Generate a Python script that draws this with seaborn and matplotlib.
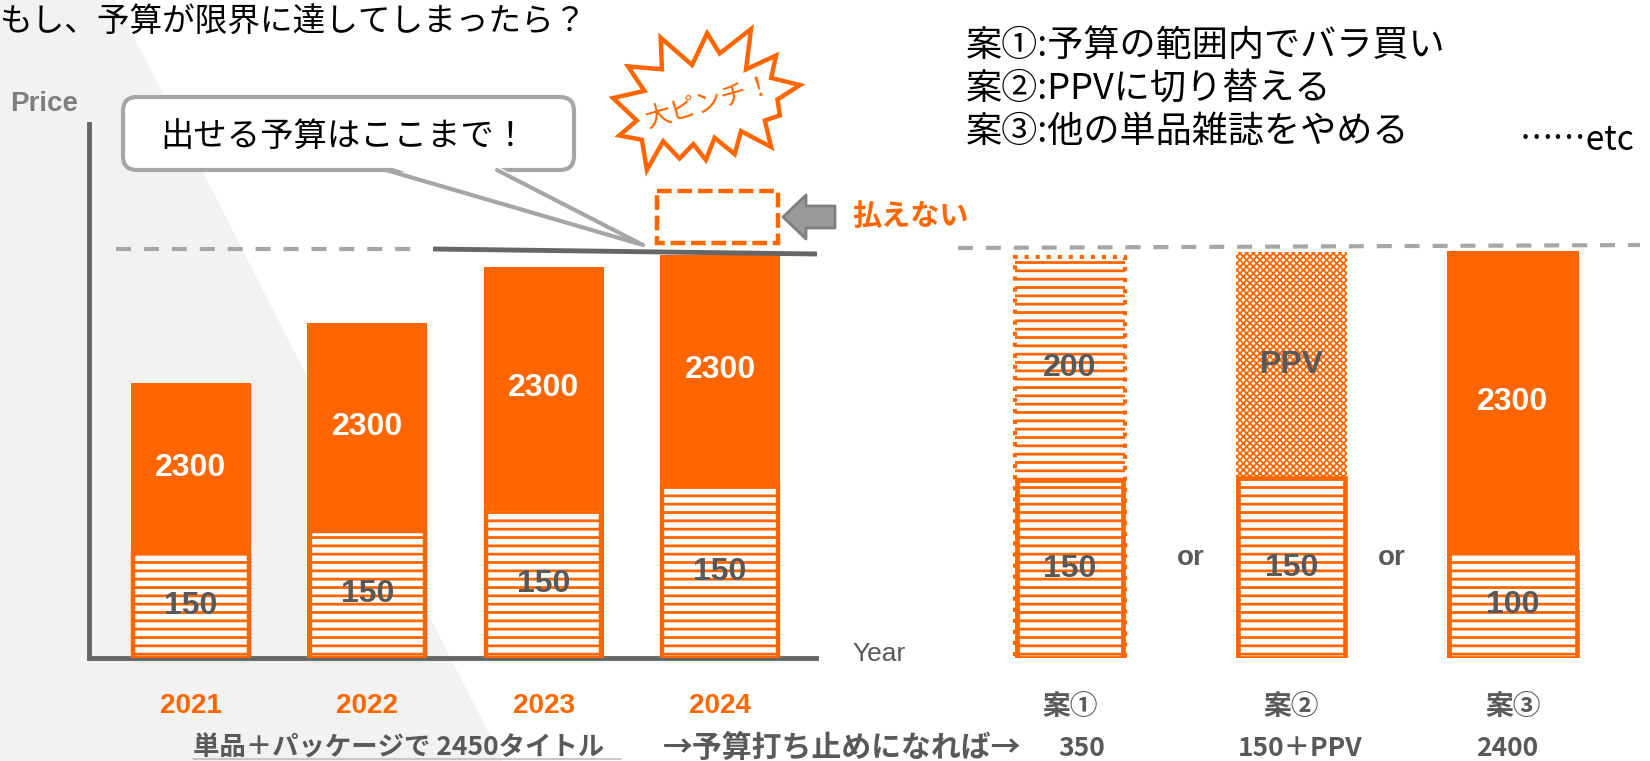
import matplotlib
matplotlib.use("Agg")
import matplotlib.pyplot as plt
import seaborn as sns
import pandas as pd
from matplotlib.patches import Polygon, FancyBboxPatch, Rectangle

# ---------------- data ----------------
years = ["2021", "2022", "2023", "2024"]
left_base_h = [105, 127, 149, 173]      # visual height of the 150 segment
left_total_h = [275, 335, 391, 403]     # visual height of the whole stack
left_base_label = ["150", "150", "150", "150"]
left_top_label = ["2300", "2300", "2300", "2300"]

plans = ["案①", "案②", "案③"]
right_base_h = [178, 180, 106]
right_total_h = [401, 406, 407]
right_base_label = ["150", "150", "100"]
right_top_label = ["200", "PPV", "2300"]
outcomes = ["350", "150＋PPV", "2400"]

options = ["案①:予算の範囲内でバラ買い", "案②:PPVに切り替える", "案③:他の単品雑誌をやめる"]
title = "もし、予算が限界に達してしまったら？"

# ---------------- style ----------------
ORANGE = "#FF6600"
DGRAY = "#595959"
CJK = ["Noto Sans CJK JP", "DejaVu Sans"]
LAT = ["Liberation Sans", "DejaVu Sans"]

sns.set_theme(style="white")
plt.rcParams["font.family"] = CJK
plt.rcParams["hatch.linewidth"] = 2.0

W, H = 1650, 761
fig = plt.figure(figsize=(16.5, 7.61), dpi=100)


def frac(x0, y0, x1, y1):
    return [x0 / W, (H - y1) / H, (x1 - x0) / W, (y1 - y0) / H]


# background
bg = fig.add_axes([0, 0, 1, 1], zorder=0)
bg.set_xlim(0, W)
bg.set_ylim(H, 0)
bg.axis("off")
bg.add_patch(Polygon([(0, 0), (115, 0), (503, 761), (0, 761)], closed=True,
                     fc="#f2f2f2", ec="none"))

# ---------------- left chart ----------------
dfL = pd.DataFrame({"year": years, "base": left_base_h, "total": left_total_h})
axL = fig.add_axes(frac(89, 124, 816, 658), zorder=1)
axL.patch.set_alpha(0)
sns.barplot(data=dfL, x="year", y="total", order=years, color=ORANGE, saturation=1,
            width=0.68, linewidth=0, errorbar=None, ax=axL, zorder=3)
sns.barplot(data=dfL, x="year", y="base", order=years, color="white", saturation=1,
            edgecolor=ORANGE, linewidth=3.2, hatch="--", width=0.655, errorbar=None,
            ax=axL, zorder=3)
ppu = (720 - 191) / 3
axL.set_xlim((89 - 191) / ppu, (816 - 191) / ppu)
axL.set_ylim(0, 534)
axL.set(xlabel="", ylabel="")
axL.set_yticks([])
sns.despine(ax=axL)
for s in ("left", "bottom"):
    axL.spines[s].set_color("#666666")
    axL.spines[s].set_linewidth(3.5)
axL.tick_params(axis="x", length=0, pad=25, labelsize=20, labelcolor=ORANGE)
for lab in axL.get_xticklabels():
    lab.set_fontfamily(LAT)
    lab.set_fontweight("bold")
for i in range(len(years)):
    axL.text(i, (left_base_h[i] + left_total_h[i]) / 2, left_top_label[i], ha="center",
             va="center", color="white", fontsize=23, fontweight="bold", family=LAT, zorder=5)
    axL.text(i, left_base_h[i] / 2, left_base_label[i], ha="center", va="center",
             color=DGRAY, fontsize=23, fontweight="bold", family=LAT, zorder=5)

# ---------------- right chart ----------------
dfR = pd.DataFrame({"plan": plans, "base": right_base_h, "total": right_total_h})
axR = fig.add_axes(frac(900, 124, 1650, 658), zorder=1)
axR.patch.set_alpha(0)
widths = {"案①": 0.5, "案②": 0.5, "案③": 0.6}
top_style = {
    "案①": dict(color="white", edgecolor=ORANGE, linewidth=3, linestyle=":", hatch="--"),
    "案②": dict(color="white", edgecolor=ORANGE, linewidth=0, hatch="xxxxx"),
    "案③": dict(color=ORANGE, linewidth=0),
}
for p in plans:
    sub = dfR[dfR["plan"] == p]
    n0 = len(axR.patches)
    sns.barplot(data=sub, x="plan", y="total", order=plans, saturation=1, width=widths[p],
                errorbar=None, ax=axR, zorder=3, **top_style[p])
    if p == "案②":
        for patch in axR.patches[n0:]:
            if hasattr(patch, "set_hatch_linewidth"):
                patch.set_hatch_linewidth(1.3)
            else:
                patch.set_hatch(None)
                patch.set_facecolor("#FFB380")
    sns.barplot(data=sub, x="plan", y="base", order=plans, color="white", saturation=1,
                edgecolor=ORANGE, linewidth=3.4, hatch="--", width=widths[p] - 0.02,
                errorbar=None, ax=axR, zorder=3)
ppr = (1513 - 1070) / 2
axR.set_xlim((900 - 1070) / ppr, (1650 - 1070) / ppr)
axR.set_ylim(0, 534)
axR.set(xlabel="", ylabel="")
axR.set_yticks([])
for s in axR.spines.values():
    s.set_visible(False)
axR.tick_params(axis="x", length=0, pad=25, labelsize=20, labelcolor=DGRAY)
for lab in axR.get_xticklabels():
    lab.set_fontweight("bold")
for i in range(len(plans)):
    tcol = "white" if right_top_label[i] == "2300" else DGRAY
    axR.text(i, (right_base_h[i] + right_total_h[i]) / 2, right_top_label[i], ha="center",
             va="center", color=tcol, fontsize=23, fontweight="bold", family=LAT, zorder=5)
    axR.text(i, right_base_h[i] / 2, right_base_label[i], ha="center", va="center",
             color=DGRAY, fontsize=23, fontweight="bold", family=LAT, zorder=5)

# ---------------- overlay ----------------
ov = fig.add_axes([0, 0, 1, 1], zorder=2)
ov.patch.set_alpha(0)
ov.set_xlim(0, W)
ov.set_ylim(H, 0)
ov.axis("off")

# budget lines
ov.plot([116, 422], [249, 249], color="#a6a6a6", lw=3, dashes=(3.6, 3.1))
ov.plot([433, 817], [249, 254], color="#666666", lw=3.5, solid_capstyle="butt")
ov.plot([958, 1640], [248, 245], color="#a6a6a6", lw=3, dashes=(3.6, 3.1))

# over-budget box, arrow, label
ov.add_patch(Rectangle((657, 191), 121, 52, fill=False, ec=ORANGE, lw=3.2,
                       linestyle=(0, (3.3, 1.3))))
ov.add_patch(Polygon([(783, 217), (806, 195), (806, 206), (835, 206), (835, 228),
                      (806, 228), (806, 239)], closed=True, fc="#999999", ec="#7f7f7f",
                     lw=2, joinstyle="round"))
ov.text(852, 216, "払えない", ha="left", va="center", color=ORANGE, fontsize=21,
        fontweight="bold")

# starburst (shape, fitted into its bounding box)
star_z = [(225, 30), (350, 125), (410, 15), (460, 85), (585, 0), (565, 140), (685, 92),
          (665, 170), (780, 195), (690, 245), (700, 300), (640, 318), (665, 410),
          (545, 355), (520, 435), (440, 378), (405, 455), (355, 400), (300, 450),
          (235, 390), (170, 490), (150, 385), (60, 370), (130, 318), (35, 240),
          (160, 215), (95, 130), (230, 140)]
sx, sy = 187 / 745, 141 / 490
star = [(613 + (x - 35) * sx, 29 + y * sy) for x, y in star_z]
ov.add_patch(Polygon(star, closed=True, fc="white", ec=ORANGE, lw=3.2, joinstyle="miter"))
ov.text(710, 103, "大ピンチ！", ha="center", va="center", rotation=16, color=ORANGE,
        fontsize=19)

# speech bubble
ov.add_patch(FancyBboxPatch((123, 97), 451, 73, boxstyle="round,pad=0,rounding_size=14",
                            fc="white", ec="#a6a6a6", lw=3))
ov.add_patch(Polygon([(386, 166), (643, 245), (497, 166)], closed=True, fc="white",
                     ec="none"))
ov.plot([386, 643, 497], [170, 245, 170], color="#a6a6a6", lw=3, solid_joinstyle="round")
ov.text(344, 137, "出せる予算はここまで！", ha="center", va="center", color="black",
        fontsize=24)

# titles / axis names
ov.text(0, 22, title, ha="left", va="center", color="black", fontsize=23.5)
for k, t in enumerate(options):
    ov.text(966, 46 + 43 * k, t, ha="left", va="center", color="black", fontsize=26)
ov.text(1520, 140, "……etc", ha="left", va="center", color="black", fontsize=24)
ov.text(10, 104, "Price", ha="left", va="center", color="#7f7f7f", fontsize=20,
        fontweight="bold", family=LAT)
ov.text(852, 654, "Year", ha="left", va="center", color=DGRAY, fontsize=19, family=LAT)

# "or"
for x in (1191, 1392):
    ov.text(x, 558, "or", ha="center", va="center", color=DGRAY, fontsize=20,
            fontweight="bold", family=LAT)

# bottom row
ov.text(193, 748, "単品＋パッケージで 2450タイトル", ha="left", va="center", color=DGRAY,
        fontsize=19, fontweight="bold")
ov.plot([193, 621], [759, 759], color="#bfbfbf", lw=1.2)
ov.text(663, 748, "→予算打ち止めになれば→", ha="left", va="center", color=DGRAY,
        fontsize=21.5, fontweight="bold")
for x, t in zip((1082, 1300, 1507), outcomes):
    ov.text(x, 748, t, ha="center", va="center", color=DGRAY, fontsize=19,
            fontweight="bold")

fig.savefig("out.png", dpi=100)
